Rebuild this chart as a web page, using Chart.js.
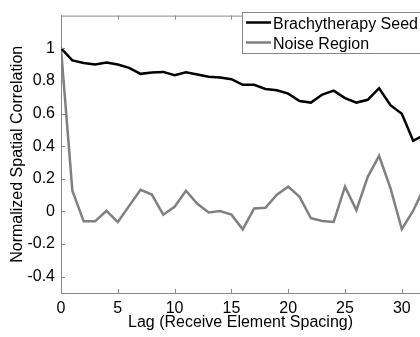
<!DOCTYPE html>
<html lang="en">
<head>
    <meta charset="UTF-8">
    <title>Spatial Correlation</title>
    <script src="https://cdn.jsdelivr.net/npm/chart.js"></script>
    <style>
        body {
            margin: 0;
            padding: 0;
            background-color: #ffffff;
        }
        #wrap {
            width: 420px;
            height: 337px;
        }
    </style>
</head>
<body>
    <div id="wrap"><canvas id="corrChart" width="420" height="337"></canvas></div>

    <script>
        // lag in receive elements
        const lags = [0, 1, 2, 3, 4, 5, 6, 7, 8, 9, 10, 11, 12, 13, 14, 15, 16,
                      17, 18, 19, 20, 21, 22, 23, 24, 25, 26, 27, 28, 29, 30, 31, 32];
        const seedValues = [1.0, 0.925, 0.91, 0.9, 0.912, 0.9, 0.88, 0.843, 0.852, 0.855, 0.835, 0.852,
                            0.839, 0.825, 0.82, 0.81, 0.776, 0.776, 0.75, 0.742, 0.722, 0.677,
                            0.667, 0.716, 0.74, 0.694, 0.667, 0.684, 0.755, 0.651, 0.598, 0.433, 0.47];
        const noiseValues = [1.0, 0.127, -0.061, -0.061, 0.004, -0.065, 0.034, 0.132, 0.103, -0.02, 0.028, 0.127,
                             0.047, -0.006, 0.002, -0.02, -0.11, 0.018, 0.022, 0.103, 0.152, 0.089,
                             -0.042, -0.059, -0.065, 0.152, 0.008, 0.212, 0.34, 0.142, -0.109, 0.004, 0.15];
        const xTicks = [0, 5, 10, 15, 20, 25, 30];
        const yTicks = [-0.4, -0.2, 0, 0.2, 0.4, 0.6, 0.8, 1];

        const axisColor = '#888888';
        const font = { family: 'Arial, "Liberation Sans", sans-serif', size: 16 };

        function toPoints(ys) {
            return lags.map((x, i) => ({ x: x, y: ys[i] }));
        }

        // top border, inward tick marks and the boxed legend
        const boxPlugin = {
            id: 'boxPlugin',
            afterDatasetsDraw(chart) {
                const ctx = chart.ctx;
                const area = chart.chartArea;
                const xs = chart.scales.x;
                const ys = chart.scales.y;
                ctx.save();
                ctx.strokeStyle = axisColor;
                ctx.lineWidth = 1;
                ctx.beginPath();
                ctx.moveTo(area.left, area.top + 0.5);
                ctx.lineTo(area.right, area.top + 0.5);
                xTicks.forEach(v => {
                    const px = Math.round(xs.getPixelForValue(v)) + 0.5;
                    ctx.moveTo(px, area.bottom);
                    ctx.lineTo(px, area.bottom - 4);
                    ctx.moveTo(px, area.top);
                    ctx.lineTo(px, area.top + 4);
                });
                yTicks.forEach(v => {
                    const py = Math.round(ys.getPixelForValue(v)) + 0.5;
                    ctx.moveTo(area.left, py);
                    ctx.lineTo(area.left + 4, py);
                });
                ctx.stroke();

                // legend
                ctx.fillStyle = '#ffffff';
                ctx.fillRect(242, 12, 190, 41);
                ctx.strokeRect(242.5, 12.5, 190, 41);
                ctx.font = '16px Arial, "Liberation Sans", sans-serif';
                ctx.textBaseline = 'alphabetic';
                chart.data.datasets.forEach((ds, i) => {
                    const yy = 22.5 + i * 20;
                    ctx.strokeStyle = ds.borderColor;
                    ctx.lineWidth = ds.borderWidth;
                    ctx.beginPath();
                    ctx.moveTo(246, yy);
                    ctx.lineTo(271, yy);
                    ctx.stroke();
                    ctx.fillStyle = '#000000';
                    ctx.fillText(ds.label, 273, yy + 6);
                });
                ctx.restore();
            }
        };

        const ctx = document.getElementById('corrChart').getContext('2d');
        new Chart(ctx, {
            type: 'line',
            data: {
                datasets: [
                    {
                        label: 'Brachytherapy Seed',
                        data: toPoints(seedValues),
                        borderColor: '#000000',
                        borderWidth: 2.5,
                        pointRadius: 0,
                        tension: 0
                    },
                    {
                        label: 'Noise Region',
                        data: toPoints(noiseValues),
                        borderColor: '#808080',
                        borderWidth: 2.5,
                        pointRadius: 0,
                        tension: 0
                    }
                ]
            },
            options: {
                responsive: false,
                animation: false,
                events: [],
                layout: { padding: { top: 6, right: 0, left: 0, bottom: 0 } },
                plugins: {
                    legend: { display: false },
                    tooltip: { enabled: false }
                },
                scales: {
                    x: {
                        type: 'linear',
                        min: 0,
                        max: 31.6,
                        afterBuildTicks: s => { s.ticks = xTicks.map(v => ({ value: v })); },
                        afterFit: s => { s.height = 44; },
                        grid: { display: false, drawTicks: false },
                        border: { color: axisColor, width: 1 },
                        ticks: { color: '#000000', font: font, padding: 6, maxRotation: 0 },
                        title: {
                            display: true,
                            text: 'Lag (Receive Element Spacing)',
                            color: '#000000',
                            font: font,
                            padding: { top: 0, bottom: 5 }
                        }
                    },
                    y: {
                        min: -0.5,
                        max: 1.2,
                        afterBuildTicks: s => { s.ticks = yTicks.map(v => ({ value: v })); },
                        afterFit: s => { s.width = 61; },
                        grid: { display: false, drawTicks: false },
                        border: { color: axisColor, width: 1 },
                        ticks: {
                            color: '#000000',
                            font: font,
                            padding: 6,
                            callback: v => String(Number(v.toFixed(1)))
                        },
                        title: {
                            display: true,
                            text: 'Normalized Spatial Correlation',
                            color: '#000000',
                            font: font,
                            padding: { top: 8, bottom: 0 }
                        }
                    }
                }
            },
            plugins: [boxPlugin]
        });
    </script>
</body>
</html>
